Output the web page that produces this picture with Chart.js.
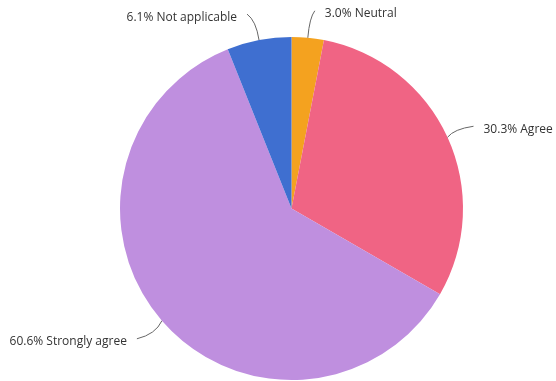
<!DOCTYPE html>
<html>
<head>
<meta charset="utf-8">
<script src="https://cdn.jsdelivr.net/npm/chart.js@4"></script>
<style>
  html, body { margin: 0; padding: 0; background: #fff; }
  #wrap { width: 556px; height: 381px; }
</style>
</head>
<body>
<div id="wrap"><canvas id="grafico_pizza"></canvas></div>
<script>
var categorias = ["Neutral", "Agree", "Strongly agree", "Not applicable"];
var respostas = [1, 10, 20, 2];
var porcentagens = ["3.0%", "30.3%", "60.6%", "6.1%"];
var cores = ["#f4a21f", "#f06484", "#bf8fdf", "#3f6fd0"];

// connector end (offset from the slice edge) and which side the text sits on
var rotulos = [
  { dx: 7, dy: -27, lado: 1 },
  { dx: 26, dy: -11, lado: 1 },
  { dx: -25, dy: 18, lado: -1 },
  { dx: -12, dy: -26, lado: -1 }
];

var rotulosPlugin = {
  id: 'rotulos',
  afterDatasetsDraw: function(chart) {
    var ctx = chart.ctx;
    var meta = chart.getDatasetMeta(0);
    ctx.save();
    ctx.font = '12px "Open Sans", sans-serif';
    ctx.textBaseline = 'middle';
    meta.data.forEach(function(arc, i) {
      var meio = (arc.startAngle + arc.endAngle) / 2;
      var x0 = arc.x + Math.cos(meio) * arc.outerRadius;
      var y0 = arc.y + Math.sin(meio) * arc.outerRadius;
      var r = rotulos[i];
      var x1 = x0 + r.dx, y1 = y0 + r.dy;
      ctx.strokeStyle = '#666';
      ctx.lineWidth = 1;
      ctx.beginPath();
      ctx.moveTo(x0, y0);
      ctx.quadraticCurveTo(x0 + r.dx * 0.25, y0 + r.dy * 0.75, x1, y1);
      ctx.stroke();
      ctx.fillStyle = '#333';
      ctx.textAlign = r.lado > 0 ? 'left' : 'right';
      ctx.fillText(porcentagens[i] + ' ' + categorias[i], x1 + r.lado * 10, y1 + 3);
    });
    ctx.restore();
  }
};

new Chart(document.getElementById("grafico_pizza"), {
  type: 'pie',
  data: {
    labels: categorias,
    datasets: [{
      data: respostas,
      backgroundColor: cores,
      borderWidth: 0
    }]
  },
  plugins: [rotulosPlugin],
  options: {
    responsive: true,
    maintainAspectRatio: false,
    animation: false,
    layout: { padding: { top: 37, bottom: 1, left: 120, right: 93 } },
    plugins: {
      legend: { display: false },
      tooltip: { enabled: false }
    }
  }
});
</script>
</body>
</html>
